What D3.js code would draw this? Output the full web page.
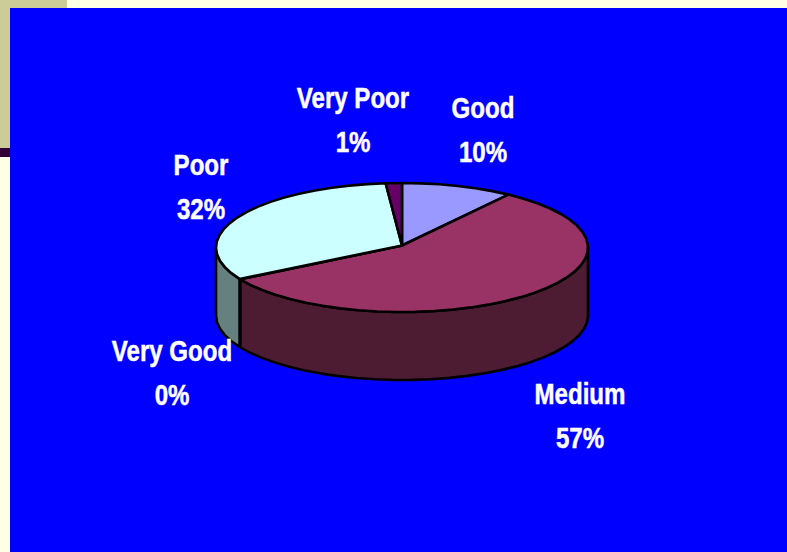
<!DOCTYPE html>
<html>
<head>
<meta charset="utf-8">
<script src="https://cdn.jsdelivr.net/npm/d3@7"></script>
<style>
html, body { margin: 0; padding: 0; background: #ffffe5; overflow: hidden; }
svg { display: block; }
text { font-family: "Liberation Sans", Arial, sans-serif; font-weight: bold; fill: #fff; stroke: #fff; stroke-width: 0.5px; font-size: 29px; text-anchor: middle; }
</style>
</head>
<body>
<svg id="chart" width="787" height="552"></svg>
<script>
const categories = ['Good', 'Medium', 'Very Good', 'Poor', 'Very Poor'];
// slightly finer than the printed percentages, read from the slice edges
const shares = [9.7, 57.1, 0.1, 31.7, 1.4];
const topColors = ['#9999ff', '#993366', '#ffffcc', '#ccffff', '#660066'];
const sideColors = ['#4d4d80', '#4d1c33', '#808066', '#668080', '#330033'];
const labelCenters = [[483, 118], [580, 404], [172, 361], [201, 175], [353, 108]];

const svg = d3.select('#chart');

// slide furniture behind the blue panel
svg.append('rect').attr('x', 0).attr('y', 0).attr('width', 67).attr('height', 148).attr('fill', '#cccc99');
svg.append('rect').attr('x', 0).attr('y', 148).attr('width', 67).attr('height', 9).attr('fill', '#330033');
svg.append('rect').attr('x', 10).attr('y', 8).attr('width', 777).attr('height', 544).attr('fill', '#0000ff');

const depth = 68;
const x = d3.scaleLinear().domain([-1, 1]).range([216, 588]);
const y = d3.scaleLinear().domain([-1, 1]).range([183, 312]);

const pie = d3.pie().sort(null).value(d => d.share);
const slices = pie(categories.map((name, i) => ({ name, share: shares[i], i })));

const rimPoint = (a, dy = 0) => [x(Math.sin(a)), y(-Math.cos(a)) + dy];
const line = d3.line();

function arcAngles(a0, a1) {
    const step = Math.PI / 30;
    const n = Math.max(1, Math.ceil((a1 - a0) / step));
    return d3.range(n + 1).map(k => a0 + (a1 - a0) * k / n);
}

function topPath(d) {
    const pts = [[x(0), y(0) - 2]].concat(arcAngles(d.startAngle, d.endAngle).map(a => rimPoint(a)));
    return line(pts) + 'Z';
}

function sidePath(d) {
    const a0 = Math.max(d.startAngle, Math.PI / 2);
    const a1 = Math.min(d.endAngle, Math.PI * 1.5);
    if (a1 <= a0) return null;
    const angles = arcAngles(a0, a1);
    const pts = angles.map(a => rimPoint(a)).concat(angles.slice().reverse().map(a => rimPoint(a, depth)));
    return line(pts) + 'Z';
}

svg.append('g').selectAll('path')
    .data(slices.filter(d => sidePath(d)))
    .join('path')
    .attr('d', sidePath)
    .attr('fill', d => sideColors[d.data.i])
    .attr('stroke', '#000')
    .attr('stroke-width', 2.6)
    .attr('stroke-linejoin', 'round');

svg.append('g').selectAll('path')
    .data(slices)
    .join('path')
    .attr('d', topPath)
    .attr('fill', d => topColors[d.data.i])
    .attr('stroke', '#000')
    .attr('stroke-width', 2.6)
    .attr('stroke-linejoin', 'round');

const labels = svg.append('g').selectAll('text')
    .data(slices)
    .join('text')
    .attr('transform', d => {
        const c = labelCenters[d.data.i];
        return `translate(${c[0]},${c[1]}) scale(0.83,1)`;
    });

labels.append('tspan').attr('x', 0).attr('y', 0).text(d => d.data.name);
labels.append('tspan').attr('x', 0).attr('y', 44.5).text(d => Math.round(d.data.share) + '%');
</script>
</body>
</html>
